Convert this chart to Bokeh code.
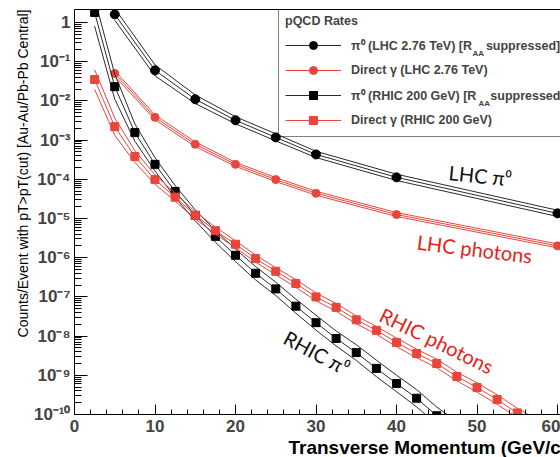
import numpy as np
from bokeh.plotting import figure
from bokeh.models import (Range1d, FixedTicker, SingleIntervalTicker, LinearAxis, Legend,
                          LegendItem, Label, Title, CustomJSTickFormatter)
from bokeh.embed import file_html
from bokeh.resources import INLINE

# ---------------- data ----------------
lhc_pi0_pt = [5, 10, 15, 20, 25, 30, 40, 60]
lhc_pi0_val = [1.6, 6.0e-2, 1.1e-2, 3.2e-3, 1.17e-3, 4.3e-4, 1.12e-4, 1.35e-5]
lhc_pi0_band = [0.15, 0.14, 0.11, 0.09, 0.09, 0.08, 0.08, 0.08]

lhc_gam_pt = [5, 10, 15, 20, 25, 30, 40, 60]
lhc_gam_val = [5.0e-2, 3.8e-3, 7.8e-4, 2.4e-4, 9.8e-5, 4.4e-5, 1.26e-5, 2.0e-6]
lhc_gam_band = [0.07, 0.06, 0.06, 0.05, 0.05, 0.05, 0.05, 0.05]

rhic_pi0_pt = [2.5, 5, 7.5, 10, 12.5, 15, 17.5, 20, 22.5, 25, 27.5, 30, 32.5, 35,
               37.5, 40, 42.5, 45, 47.5]
rhic_pi0_val = [1.8, 2.3e-2, 1.55e-3, 2.4e-4, 4.9e-5, 1.2e-5, 3.5e-6, 1.15e-6, 4.0e-7,
                1.6e-7, 5.8e-8, 2.2e-8, 8.7e-9, 3.8e-9, 1.5e-9, 6.2e-10, 2.6e-10,
                9.3e-11, 3.9e-11]
rhic_pi0_band = [0.35, 0.32, 0.22, 0.17, 0.15, 0.14, 0.15, 0.16, 0.17, 0.17, 0.18,
                 0.19, 0.19, 0.20, 0.21, 0.21, 0.22, 0.22, 0.23]

rhic_gam_pt = [2.5, 5, 7.5, 10, 12.5, 15, 17.5, 20, 22.5, 25, 27.5, 30, 32.5, 35,
               37.5, 40, 42.5, 45, 47.5, 50, 52.5, 55, 57.5]
rhic_gam_val = [3.5e-2, 2.2e-3, 3.8e-4, 9.8e-5, 3.5e-5, 1.2e-5, 4.9e-6, 2.2e-6, 9.5e-7,
                4.5e-7, 2.2e-7, 1.0e-7, 5.4e-8, 2.6e-8, 1.4e-8, 6.9e-9, 3.6e-9, 2.0e-9,
                9.3e-10, 4.9e-10, 2.4e-10, 1.1e-10, 5.6e-11]
rhic_gam_band = [0.25, 0.22, 0.15, 0.12, 0.10, 0.09, 0.09, 0.09, 0.09, 0.09, 0.10, 0.10,
                 0.10, 0.10, 0.10, 0.11, 0.11, 0.11, 0.11, 0.12, 0.12, 0.12, 0.12]

legend_labels = ["π⁰ (LHC 2.76 TeV) [R\u00a0\u00a0\u00a0\u00a0suppressed]",
                 "Direct γ (LHC 2.76 TeV)",
                 "π⁰ (RHIC 200 GeV) [R\u00a0\u00a0\u00a0\u00a0suppressed]",
                 "Direct γ (RHIC 200 GeV)"]
legend_title = "pQCD Rates"
x_title = "Transverse Momentum (GeV/c)"
y_title = "Counts/Event with pT>pT(cut) [Au-Au/Pb-Pb Central]"
y_tick_labels = ["1", "10⁻¹", "10⁻²", "10⁻³", "10⁻⁴", "10⁻⁵", "10⁻⁶", "10⁻⁷",
                 "10⁻⁸", "10⁻⁹", "10⁻¹⁰"]

FONT = "Liberation Sans"
BLACK_LINE = "#2a2a2a"
RED = "#e8453c"

p = figure(width=560, height=457, y_axis_type="log",
           x_range=Range1d(0, 60.37), y_range=Range1d(1e-10, 10 ** 0.33),
           output_backend="svg", toolbar_location=None,
           min_border_left=74, min_border_right=0, min_border_top=9, min_border_bottom=43)
p.grid.visible = False
p.outline_line_color = None
p.background_fill_color = "white"
p.border_fill_color = "white"

# axes
xa = p.xaxis[0]
xa.ticker = SingleIntervalTicker(interval=10, num_minor_ticks=5)
xa.major_tick_in = 10
xa.major_tick_out = 0
xa.minor_tick_in = 5
xa.minor_tick_out = 0
xa.axis_line_color = "black"
xa.major_label_text_font = FONT
xa.major_label_text_font_style = "bold"
xa.major_label_text_font_size = "17px"
xa.major_label_standoff = 5

ya = p.yaxis[0]
major_y = [10.0 ** (-k) for k in range(len(y_tick_labels))]
minor_y = [m * 10.0 ** (-k) for k in range(1, len(y_tick_labels)) for m in range(2, 10)]
ya.ticker = FixedTicker(ticks=major_y, minor_ticks=minor_y)
ya.formatter = CustomJSTickFormatter(args=dict(labels=y_tick_labels), code="""
    const k = Math.round(-Math.log10(tick));
    return (k >= 0 && k < labels.length) ? labels[k] : '';
""")
ya.major_tick_in = 13
ya.major_tick_out = 0
ya.minor_tick_in = 7
ya.minor_tick_out = 0
ya.axis_line_color = "black"
ya.major_label_text_font = FONT
ya.major_label_text_font_style = "bold"
ya.major_label_text_font_size = "17px"
ya.major_label_standoff = 4

top = LinearAxis(ticker=FixedTicker(ticks=[]), major_tick_in=0, major_tick_out=0,
                 minor_tick_in=0, minor_tick_out=0, axis_line_color="black")
p.add_layout(top, "above")

# axis titles (as plot titles so they can be aligned like the ROOT original)
p.add_layout(Title(text=x_title, align="left", offset=214, standoff=0,
                   text_font=FONT, text_font_style="bold", text_font_size="19px",
                   text_color="black"), "below")
p.add_layout(Title(text=y_title, align="right", offset=0, standoff=0,
                   text_font=FONT, text_font_style="normal", text_font_size="14px",
                   text_color="black"), "left")
# invisible spacer panel at the outer left edge, pushes the y title inwards
p.add_layout(Title(text="\u200b", standoff=14, text_font_size="1px",
                   text_color=None), "left")


def series(pt, val, band, color, marker, msize):
    pt = np.array(pt, dtype=float)
    val = np.array(val, dtype=float)
    band = np.array(band, dtype=float)
    p.line(pt, val * 10 ** band, line_color=color, line_width=1)
    p.line(pt, val / 10 ** band, line_color=color, line_width=1)
    rl = p.line(pt, val, line_color=color, line_width=1)
    mcol = "black" if color == BLACK_LINE else RED
    rs = p.scatter(pt, val, marker=marker, size=msize, fill_color=mcol, line_color=mcol)
    return [rl, rs]


r1 = series(lhc_pi0_pt, lhc_pi0_val, lhc_pi0_band, BLACK_LINE, "circle", 9)
r2 = series(lhc_gam_pt, lhc_gam_val, lhc_gam_band, RED, "circle", 8)
r3 = series(rhic_pi0_pt, rhic_pi0_val, rhic_pi0_band, BLACK_LINE, "square", 8)
r4 = series(rhic_gam_pt, rhic_gam_val, rhic_gam_band, RED, "square", 8)

legend = Legend(items=[LegendItem(label=legend_labels[0], renderers=r1),
                       LegendItem(label=legend_labels[1], renderers=r2),
                       LegendItem(label=legend_labels[2], renderers=r3),
                       LegendItem(label=legend_labels[3], renderers=r4)],
                title=legend_title, location=(204, 277),
                title_text_font=FONT, title_text_font_style="bold",
                title_text_font_size="12.5px", title_standoff=7,
                label_text_font=FONT, label_text_font_style="bold",
                label_text_font_size="12.5px", label_standoff=10,
                glyph_width=56, glyph_height=20, label_height=20, spacing=5,
                padding=6, margin=0, border_line_color="black", border_line_width=1,
                background_fill_color="white", background_fill_alpha=0)
p.add_layout(legend)

# subscript "AA" of R_AA in the legend
for xs, ys in [(398, 361), (404, 311)]:
    p.add_layout(Label(x=xs, y=ys, x_units="screen", y_units="screen", text="AA",
                       text_font=FONT, text_font_style="bold", text_font_size="8px",
                       text_baseline="alphabetic", level="overlay"))

# curve annotations
ann = [("LHC π⁰", 50.4, 10 ** -3.90, -6, "#111111"),
       ("LHC photons", 49.7, 10 ** -5.77, -7, "#e3241b"),
       ("RHIC photons", 45.0, 10 ** -8.11, -26, "#e3241b"),
       ("RHIC π⁰", 30.1, 10 ** -8.42, -28, "#111111")]
for txt, ax, ay, ang, col in ann:
    p.add_layout(Label(x=ax, y=ay, text=txt, angle=np.deg2rad(ang), text_color=col,
                       text_font="Lato", text_font_size="20px",
                       text_align="center", text_baseline="middle"))

open("out.html", "w").write(file_html(p, INLINE))
